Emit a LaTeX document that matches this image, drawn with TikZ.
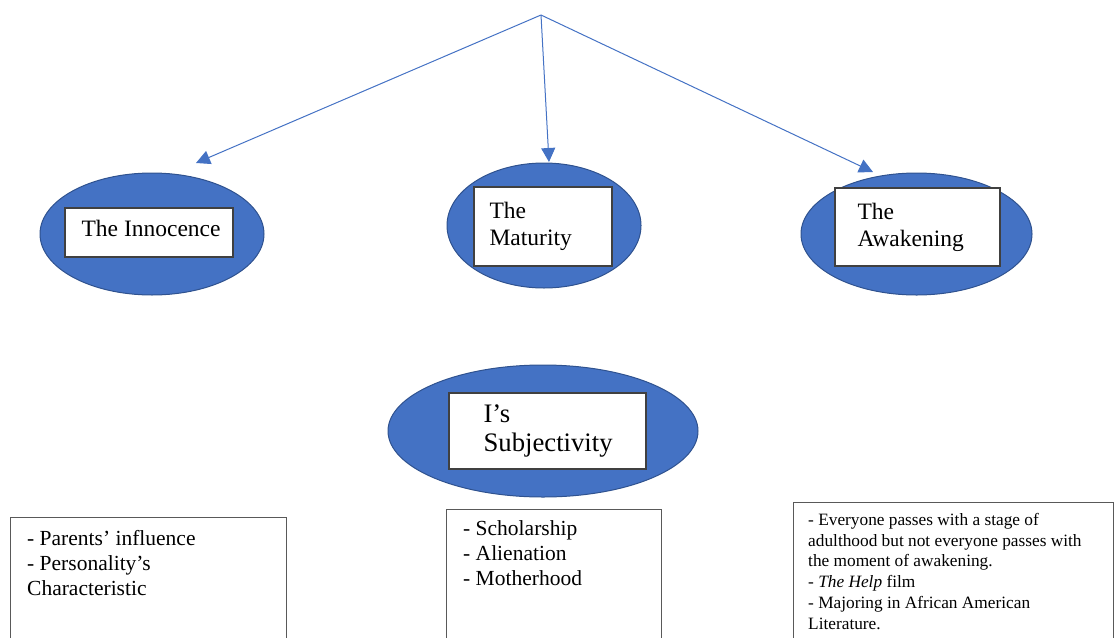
\documentclass[tikz,border=0pt]{standalone}
\usepackage{fontspec}
\setmainfont{Liberation Serif}
\usetikzlibrary{shapes.geometric, arrows.meta, positioning}

\begin{document}
\begin{tikzpicture}[x=1pt, y=-1pt,
    stage/.style={ellipse, fill=fillColourE, draw=borderColourE, line width=1pt, inner sep=0pt},
    labelBox/.style={rectangle, fill=white, draw=borderColour, line width=1.2pt, inner sep=0pt},
    noteBox/.style={rectangle, draw=noteColour, line width=1pt, inner sep=0pt, anchor=north west},
    titleText/.style={inner sep=0pt, align=left, font=\fontsize{23.5}{27}\selectfont},
    noteText/.style={inner sep=0pt, align=left, font=\fontsize{21.5}{25}\selectfont},
    link/.style={draw=lineColour, line width=1pt, -{Triangle[length=14pt,width=14pt]}}]

    \definecolor{fillColourE}{HTML}{4472C4}
    \definecolor{borderColourE}{HTML}{2F528F}
    \definecolor{lineColour}{HTML}{4472C4}
    \definecolor{borderColour}{HTML}{404040}
    \definecolor{noteColour}{HTML}{595959}

    % Page size
    \useasboundingbox (0,0) rectangle (1115,637);

    % Draw arrows from the top
    \coordinate (apex) at (541,15);
    \coordinate (innocenceTip) at (196,163);
    \coordinate (maturityTip) at (549,162);
    \coordinate (awakeningTip) at (873,172);
    \foreach \tip in {innocenceTip, maturityTip, awakeningTip}
        \draw[link] (apex) -- (\tip);

    % Draw the stages
    \node[stage, minimum width=224pt, minimum height=122pt] (innocence) at (152,234) {};
    \node[stage, minimum width=194pt, minimum height=125pt] (maturity) at (544,225.5) {};
    \node[stage, minimum width=231pt, minimum height=122pt] (awakening) at (916.5,234) {};
    \node[stage, minimum width=310pt, minimum height=132pt] (subject) at (543,431) {};

    % Label boxes
    \node[labelBox, minimum width=168pt, minimum height=49pt] (innocenceBox) at (149,232.5) {};
    \node[titleText, right=17pt of innocenceBox.west, yshift=4pt] (innocenceText) {The Innocence};

    \node[labelBox, minimum width=138pt, minimum height=79pt] (maturityBox) at (543,226.5) {};
    \node[titleText, right=16pt of maturityBox.west] (maturityText) {The\\Maturity};

    \node[labelBox, minimum width=165pt, minimum height=78pt] (awakeningBox) at (917.5,227) {};
    \node[titleText, right=23pt of awakeningBox.west] (awakeningText) {The\\Awakening};

    \node[labelBox, minimum width=197pt, minimum height=76pt] (subjectBox) at (547.5,431) {};
    \node[titleText, font=\fontsize{26.7}{29.5}\selectfont, right=35pt of subjectBox.west] (subjectText) {I’s\\Subjectivity};

    % Notes at the bottom
    \node[noteBox, minimum width=276pt, minimum height=130pt] (innocenceNote) at (10,517) {};
    \node[noteText, below right=13pt and 17pt of innocenceNote.north west] (innocenceList)
        {- Parents’ influence\\- Personality’s\\Characteristic};

    \node[noteBox, minimum width=215pt, minimum height=140pt] (maturityNote) at (446,508.5) {};
    \node[noteText, below right=12pt and 17pt of maturityNote.north west] (maturityList)
        {- Scholarship\\- Alienation\\- Motherhood};

    \node[noteBox, minimum width=320pt, minimum height=145pt] (awakeningNote) at (793,502) {};
    \node[noteText, font=\fontsize{17.3}{20.8}\selectfont, below right=11pt and 15pt of awakeningNote.north west] (awakeningList)
        {- Everyone passes with a stage of\\adulthood but not everyone passes with\\the moment of awakening.\\- \textit{The Help} film\\- Majoring in African American\\Literature.};

\end{tikzpicture}
\end{document}
